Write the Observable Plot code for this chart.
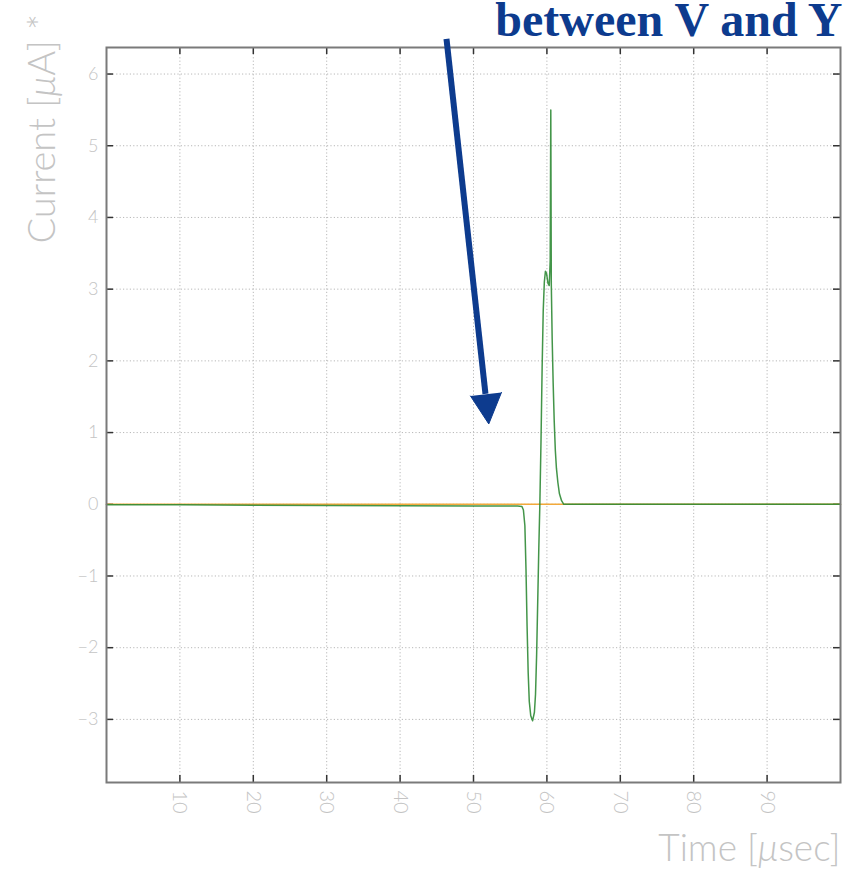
<!DOCTYPE html>
<html><head><meta charset="utf-8">
<script src="https://cdn.jsdelivr.net/npm/d3@7"></script>
<script src="https://cdn.jsdelivr.net/npm/@observablehq/plot@0.6"></script>
<style>body{margin:0;background:#fff}#chart{position:absolute;left:0;top:0}</style>
</head><body><div id="chart"></div>
<script>
// Measured current (green trace)
const timeUs = [0, 10, 20, 30, 40, 50, 56.0, 56.6, 56.8, 57.0, 57.15, 57.3, 57.45, 57.6, 57.8, 58.05, 58.3, 58.45, 58.6, 58.77, 58.9, 59.04, 59.2, 59.35, 59.5, 59.65, 59.8, 59.95, 60.15, 60.32, 60.45, 60.53, 60.6, 60.72, 60.85, 61.0, 61.15, 61.3, 61.5, 61.7, 62.0, 62.3, 70, 80, 90, 100];
const currentUa = [-0.005, -0.008, -0.012, -0.018, -0.022, -0.025, -0.025, -0.03, -0.08, -0.3, -0.9, -1.7, -2.35, -2.75, -2.95, -3.02, -2.9, -2.65, -2.1, -1.25, -0.6, 0.0, 0.9, 1.9, 2.7, 3.1, 3.25, 3.22, 3.08, 3.05, 3.4, 5.5, 3.07, 2.3, 1.7, 1.15, 0.75, 0.5, 0.3, 0.15, 0.05, 0.0, 0.0, 0.0, 0.0, 0.0];
// Reference trace (orange)
const refTime = [0, 100];
const refCurrent = [0, 0];
// Axes
const xTicks = [10, 20, 30, 40, 50, 60, 70, 80, 90];
const yTicks = [-3, -2, -1, 0, 1, 2, 3, 4, 5, 6];
const xDomain = [0, 100];
const yDomain = [-3.88, 6.37];
// Texts
const titleText = "between V and Y";
const yLabel = "Current [μA] *";
const xLabel = "Time [μsec]";
// Annotation arrow (data units)
const arrowShaftX = [46.32, 51.63];
const arrowShaftY = [6.49, 1.54];
const arrowHeadX = [49.59, 52.08, 53.81];
const arrowHeadY = [1.51, 1.12, 1.56];

const W = 854, H = 874, mL = 106, mR = 14, mT = 47, mB = 92;
const innerW = W - mL - mR, innerH = H - mT - mB, tk = 7;
const blue = "#0d3b8e", labelGray = "#c4c4c4";

const green = timeUs.map((t, i) => ({t, c: currentUa[i]}));
const ref = refTime.map((t, i) => ({t, c: refCurrent[i]}));
const shaft = [{x1: arrowShaftX[0], y1: arrowShaftY[0], x2: arrowShaftX[1], y2: arrowShaftY[1]}];
const head = arrowHeadX.map((x, i) => ({x, y: arrowHeadY[i]}));

const svg = Plot.plot({
  width: W, height: H,
  marginLeft: mL, marginRight: mR, marginTop: mT, marginBottom: mB,
  x: {domain: xDomain},
  y: {domain: yDomain},
  style: {fontFamily: "Lato, 'Liberation Sans', sans-serif", background: "#fff", overflow: "visible"},
  marks: [
    Plot.gridX(xTicks, {stroke: "#b8b8b8", strokeOpacity: 1, strokeDasharray: "1.2,2.2", strokeWidth: 1}),
    Plot.gridY(yTicks, {stroke: "#b8b8b8", strokeOpacity: 1, strokeDasharray: "1.2,2.2", strokeWidth: 1}),
    Plot.axisX(xTicks, {anchor: "bottom", tickSize: 0, tickPadding: 8, tickRotate: 90, fontSize: 20, fontWeight: 300, color: labelGray, label: null, tickFormat: d3.format("d")}),
    Plot.axisY(yTicks, {anchor: "left", tickSize: 0, tickPadding: 8, fontSize: 18, fontWeight: 300, color: labelGray, label: null, tickFormat: d3.format("d")}),
    Plot.tickX(xTicks, {x: d => d, insetTop: innerH - tk, stroke: "#333", strokeWidth: 1.5}),
    Plot.tickX(xTicks, {x: d => d, insetBottom: innerH - tk, stroke: "#333", strokeWidth: 1.5}),
    Plot.tickY(yTicks, {y: d => d, insetRight: innerW - tk, stroke: "#333", strokeWidth: 1.5}),
    Plot.tickY(yTicks, {y: d => d, insetLeft: innerW - tk, stroke: "#333", strokeWidth: 1.5}),
    Plot.line(ref, {x: "t", y: "c", stroke: "#f2a93b", strokeWidth: 1.6}),
    Plot.line(green, {x: "t", y: "c", stroke: "#2f8a35", strokeWidth: 1.5, strokeOpacity: 0.9}),
    Plot.frame({stroke: "#7a7a7a", strokeWidth: 2}),
    Plot.link(shaft, {x1: "x1", y1: "y1", x2: "x2", y2: "y2", stroke: blue, strokeWidth: 6}),
    Plot.line(head, {x: "x", y: "y", fill: blue, stroke: blue, strokeWidth: 1}),
    Plot.text([titleText], {text: d => d, frameAnchor: "top-right", lineAnchor: "top", textAnchor: "end", dx: 2, dy: -46,
      fontSize: 48, fontWeight: "bold", fontFamily: "'Liberation Serif', 'Times New Roman', serif", fill: blue}),
    Plot.text([yLabel], {text: d => d, frameAnchor: "top-left", lineAnchor: "top", rotate: -90, textAnchor: "start", dx: -78, dy: 196,
      fontSize: 38, fontWeight: 300, fill: labelGray}),
    Plot.text([xLabel], {text: d => d, frameAnchor: "bottom-right", lineAnchor: "bottom", textAnchor: "end", dy: 78,
      fontSize: 37, fontWeight: 300, fill: labelGray})
  ]
});

// italic mu in the axis titles
d3.select(svg).selectAll("text").each(function() {
  const t = this.textContent;
  if (t.includes("μ") && this.childElementCount === 0) {
    const parts = t.split("μ");
    const sel = d3.select(this);
    this.textContent = "";
    sel.append("tspan").text(parts[0]);
    sel.append("tspan").attr("font-style", "italic").text("μ");
    sel.append("tspan").text(parts[1]);
  }
});

document.getElementById("chart").appendChild(svg);
</script>
</body></html>
